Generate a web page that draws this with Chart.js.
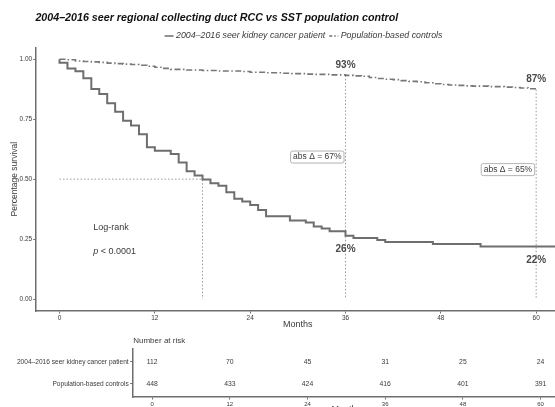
<!DOCTYPE html>
<html>
<head>
<meta charset="utf-8">
<script src="https://cdn.jsdelivr.net/npm/chart.js@4.4.0/dist/chart.umd.min.js"></script>
<style>
html, body { margin: 0; padding: 0; background: #fff; overflow: hidden; width: 555px; height: 407px; }
#main { position: absolute; left: 0; top: 0; }
#risk { position: absolute; left: 0; top: 335px; }
</style>
</head>
<body>
<canvas id="main" width="560" height="335"></canvas>
<canvas id="risk" width="560" height="90"></canvas>
<script>
var FONT = '"Liberation Sans", Arial, sans-serif';
var INK = '#3a3a3a';
var GREY = '#6e6e6e';

var chartTitle = '2004–2016 seer regional collecting duct RCC vs SST population control';
var groupNames = ['2004–2016 seer kidney cancer patient', 'Population-based controls'];

// Kaplan-Meier steps (months, survival)
var patientMonths = [0, 0, 1, 2, 3, 4, 5, 6, 7, 8, 9, 10, 11, 12, 14, 15, 16, 17, 18, 19, 20,
  21, 22, 23, 24, 25, 26, 29, 31, 32, 33, 34, 36, 37, 40, 41, 47, 53, 63];
var patientSurv = [1.0, 0.986, 0.962, 0.950, 0.921, 0.876, 0.855, 0.817, 0.781, 0.744, 0.724,
  0.687, 0.633, 0.618, 0.605, 0.569, 0.533, 0.515, 0.499, 0.483, 0.472, 0.445, 0.418, 0.407,
  0.392, 0.371, 0.345, 0.327, 0.319, 0.302, 0.294, 0.283, 0.264, 0.255, 0.246, 0.238, 0.229,
  0.219, 0.219];

var controlMonths = [0, 1, 2, 3, 4, 5, 6, 7, 8, 9, 10, 11, 12, 13, 14, 15, 16, 17, 18, 19, 20,
  21, 22, 23, 24, 25, 26, 27, 28, 29, 30, 31, 32, 33, 34, 35, 36, 37, 38, 39, 40, 41, 42, 43,
  44, 45, 46, 47, 48, 49, 50, 51, 52, 53, 54, 55, 56, 57, 58, 59, 60];
var controlSurv = [1.000, 0.998, 0.993, 0.991, 0.989, 0.987, 0.984, 0.982, 0.980, 0.978, 0.975,
  0.971, 0.967, 0.962, 0.958, 0.958, 0.955, 0.955, 0.953, 0.953, 0.951, 0.951, 0.951, 0.949,
  0.946, 0.946, 0.944, 0.944, 0.942, 0.940, 0.940, 0.938, 0.937, 0.937, 0.935, 0.935, 0.933,
  0.931, 0.929, 0.924, 0.920, 0.917, 0.915, 0.911, 0.908, 0.906, 0.902, 0.898, 0.895, 0.893,
  0.891, 0.889, 0.888, 0.888, 0.886, 0.886, 0.884, 0.882, 0.880, 0.877, 0.873];

var xTicks = [0, 12, 24, 36, 48, 60];
var yTicks = [0, 0.25, 0.5, 0.75, 1];
var medianMonth = 18;
var landmarks = [36, 60];

var riskMonths = [0, 12, 24, 36, 48, 60];
var riskPatients = [112, 70, 45, 31, 25, 24];
var riskControls = [448, 433, 424, 416, 401, 391];

Chart.defaults.font.family = FONT;
Chart.defaults.color = INK;

function survAt(months, surv, t) {
  var v = surv[0];
  for (var i = 0; i < months.length; i++) {
    if (months[i] <= t) v = surv[i];
  }
  return v;
}

function pts(xs, ys) {
  return xs.map(function (x, i) { return { x: x, y: ys[i] }; });
}

var guide = { borderColor: '#9a9a9a', borderWidth: 1, borderDash: [1.5, 2], pointRadius: 0, fill: false };

var datasets = [
  { label: groupNames[0], data: pts(patientMonths, patientSurv), stepped: true,
    borderColor: GREY, borderWidth: 2, pointRadius: 0, fill: false },
  { label: groupNames[1], data: pts(controlMonths, controlSurv), stepped: true,
    borderColor: '#777', borderWidth: 1.6, borderDash: [6, 2.5, 1.5, 2.5], pointRadius: 0, fill: false },
  Object.assign({ label: 'median', data: [{ x: 0, y: 0.5 }, { x: medianMonth, y: 0.5 }, { x: medianMonth, y: 0 }] }, guide)
];
landmarks.forEach(function (m) {
  datasets.push(Object.assign({ label: 'lm' + m,
    data: [{ x: m, y: survAt(controlMonths, controlSurv, m) }, { x: m, y: 0 }] }, guide));
});

function roundedBox(ctx, x, y, w, h, r) {
  ctx.beginPath();
  ctx.moveTo(x + r, y);
  ctx.lineTo(x + w - r, y);
  ctx.quadraticCurveTo(x + w, y, x + w, y + r);
  ctx.lineTo(x + w, y + h - r);
  ctx.quadraticCurveTo(x + w, y + h, x + w - r, y + h);
  ctx.lineTo(x + r, y + h);
  ctx.quadraticCurveTo(x, y + h, x, y + h - r);
  ctx.lineTo(x, y + r);
  ctx.quadraticCurveTo(x, y, x + r, y);
  ctx.closePath();
}

var overlay = {
  id: 'overlay',
  afterDatasetsDraw: function (chart) {
    var ctx = chart.ctx;
    var xs = chart.scales.x, ys = chart.scales.y;
    ctx.save();
    ctx.textBaseline = 'middle';

    // title
    ctx.fillStyle = '#111';
    ctx.font = 'italic bold 10.7px ' + FONT;
    ctx.textAlign = 'left';
    ctx.fillText(chartTitle, 35.4, 17.7);

    // legend
    ctx.font = 'italic 8.8px ' + FONT;
    var w1 = ctx.measureText(groupNames[0]).width;
    var w2 = ctx.measureText(groupNames[1]).width;
    var total = 9 + 2.5 + w1 + 4 + 9 + 2.5 + w2;
    var lx = 303.5 - total / 2, ly = 36;
    ctx.strokeStyle = GREY;
    ctx.lineWidth = 1.5;
    ctx.beginPath(); ctx.moveTo(lx, ly); ctx.lineTo(lx + 9, ly); ctx.stroke();
    ctx.fillStyle = INK;
    ctx.fillText(groupNames[0], lx + 11.5, ly);
    var lx2 = lx + 11.5 + w1 + 4;
    ctx.setLineDash([3, 2, 1.5, 2]);
    ctx.beginPath(); ctx.moveTo(lx2, ly); ctx.lineTo(lx2 + 9, ly); ctx.stroke();
    ctx.setLineDash([]);
    ctx.fillText(groupNames[1], lx2 + 11.5, ly);

    // log-rank
    ctx.font = '9px ' + FONT;
    ctx.fillText('Log-rank', xs.getPixelForValue(4.25), ys.getPixelForValue(0.297));
    var px = xs.getPixelForValue(4.25), py = ys.getPixelForValue(0.197);
    ctx.font = 'italic 9px ' + FONT;
    ctx.fillText('p', px, py);
    var pw = ctx.measureText('p ').width;
    ctx.font = '9px ' + FONT;
    ctx.fillText('< 0.0001', px + pw, py);

    // landmark labels
    landmarks.forEach(function (m) {
      var c = survAt(controlMonths, controlSurv, m);
      var p = survAt(patientMonths, patientSurv, m);
      var x = xs.getPixelForValue(m);
      ctx.font = 'bold 10px ' + FONT;
      ctx.fillStyle = '#4a4a4a';
      ctx.textAlign = 'center';
      ctx.fillText(Math.round(c * 100) + '%', x, ys.getPixelForValue(c) - 10);
      ctx.fillText(Math.round(p * 100) + '%', x, ys.getPixelForValue(p) + 14);

      var txt = 'abs \u0394 = ' + Math.round((c - p) * 100) + '%';
      ctx.font = '8.5px ' + FONT;
      var tw = ctx.measureText(txt).width;
      var bw = tw + 5, bh = 12;
      var by = ys.getPixelForValue((c + p) / 2) + 1.5;
      var bx = x - 1.5 - bw;
      roundedBox(ctx, bx, by - bh / 2, bw, bh, 2);
      ctx.fillStyle = '#fff';
      ctx.fill();
      ctx.strokeStyle = '#a0a0a0';
      ctx.lineWidth = 0.8;
      ctx.stroke();
      ctx.fillStyle = INK;
      ctx.fillText(txt, bx + bw / 2, by);
    });
    ctx.restore();
  }
};

new Chart(document.getElementById('main'), {
  type: 'line',
  data: { datasets: datasets },
  options: {
    responsive: false,
    animation: false,
    devicePixelRatio: 1,
    layout: { padding: { top: 47.3, left: 0, right: 0, bottom: 0 } },
    plugins: { legend: { display: false }, tooltip: { enabled: false } },
    scales: {
      x: {
        type: 'linear', min: -3, max: 63,
        afterBuildTicks: function (s) { s.ticks = xTicks.map(function (v) { return { value: v }; }); },
        afterFit: function (s) { s.height = 24; },
        ticks: { font: { size: 6.5 }, padding: 1, maxRotation: 0, color: INK },
        grid: { display: true, drawOnChartArea: false, tickLength: 2.5, color: GREY },
        border: { display: true, color: GREY, width: 1.5 },
        title: { display: true, text: 'Months', font: { size: 9 }, color: INK, padding: { top: 0, bottom: 4.6 } }
      },
      y: {
        min: -0.05, max: 1.05,
        afterBuildTicks: function (s) { s.ticks = yTicks.map(function (v) { return { value: v }; }); },
        afterFit: function (s) { s.width = 35.7; },
        ticks: { font: { size: 6.5 }, padding: 1, color: INK, callback: function (v) { return v.toFixed(2); } },
        grid: { display: true, drawOnChartArea: false, tickLength: 2.5, color: GREY },
        border: { display: true, color: GREY, width: 1.5 },
        title: { display: true, text: 'Percentage survival', font: { size: 8.5 }, color: INK, padding: { top: 10, bottom: 0 } }
      }
    }
  },
  plugins: [overlay]
});

var riskLabels = {
  id: 'riskLabels',
  afterDatasetsDraw: function (chart) {
    var ctx = chart.ctx;
    ctx.save();
    ctx.textBaseline = 'middle';
    ctx.fillStyle = INK;
    ctx.font = '8px ' + FONT;
    ctx.textAlign = 'left';
    ctx.fillText('Number at risk', chart.chartArea.left + 0.5, 5.5);
    ctx.font = '6.8px ' + FONT;
    ctx.textAlign = 'center';
    chart.data.datasets.forEach(function (ds, i) {
      chart.getDatasetMeta(i).data.forEach(function (el, j) {
        ctx.fillText(String(ds.counts[j]), el.x, el.y);
      });
    });
    ctx.restore();
  }
};

new Chart(document.getElementById('risk'), {
  type: 'scatter',
  data: {
    datasets: [
      { data: riskMonths.map(function (m) { return { x: m, y: 1 }; }), counts: riskPatients, pointRadius: 0 },
      { data: riskMonths.map(function (m) { return { x: m, y: 2 }; }), counts: riskControls, pointRadius: 0 }
    ]
  },
  options: {
    responsive: false,
    animation: false,
    devicePixelRatio: 1,
    layout: { padding: { top: 13.5, left: 0, right: 0, bottom: 0 } },
    plugins: { legend: { display: false }, tooltip: { enabled: false } },
    scales: {
      x: {
        type: 'linear', min: -3, max: 63,
        afterBuildTicks: function (s) { s.ticks = xTicks.map(function (v) { return { value: v }; }); },
        afterFit: function (s) { s.height = 28; },
        ticks: { font: { size: 6 }, padding: 1, maxRotation: 0, color: INK },
        grid: { display: true, drawOnChartArea: false, tickLength: 2.5, color: GREY },
        border: { display: true, color: GREY, width: 1.5 },
        title: { display: true, text: 'Months', font: { size: 9 }, color: INK, padding: { top: 0, bottom: 9.6 } }
      },
      y: {
        min: 0.4, max: 2.6, reverse: true,
        afterBuildTicks: function (s) { s.ticks = [{ value: 1 }, { value: 2 }]; },
        afterFit: function (s) { s.width = 132.7; },
        ticks: { font: { size: 6.6 }, padding: 1.5, color: INK, autoSkip: false,
          callback: function (v) { return groupNames[v - 1]; } },
        grid: { display: true, drawOnChartArea: false, tickLength: 2.5, color: GREY },
        border: { display: true, color: GREY, width: 1.5 }
      }
    }
  },
  plugins: [riskLabels]
});
</script>
</body>
</html>
